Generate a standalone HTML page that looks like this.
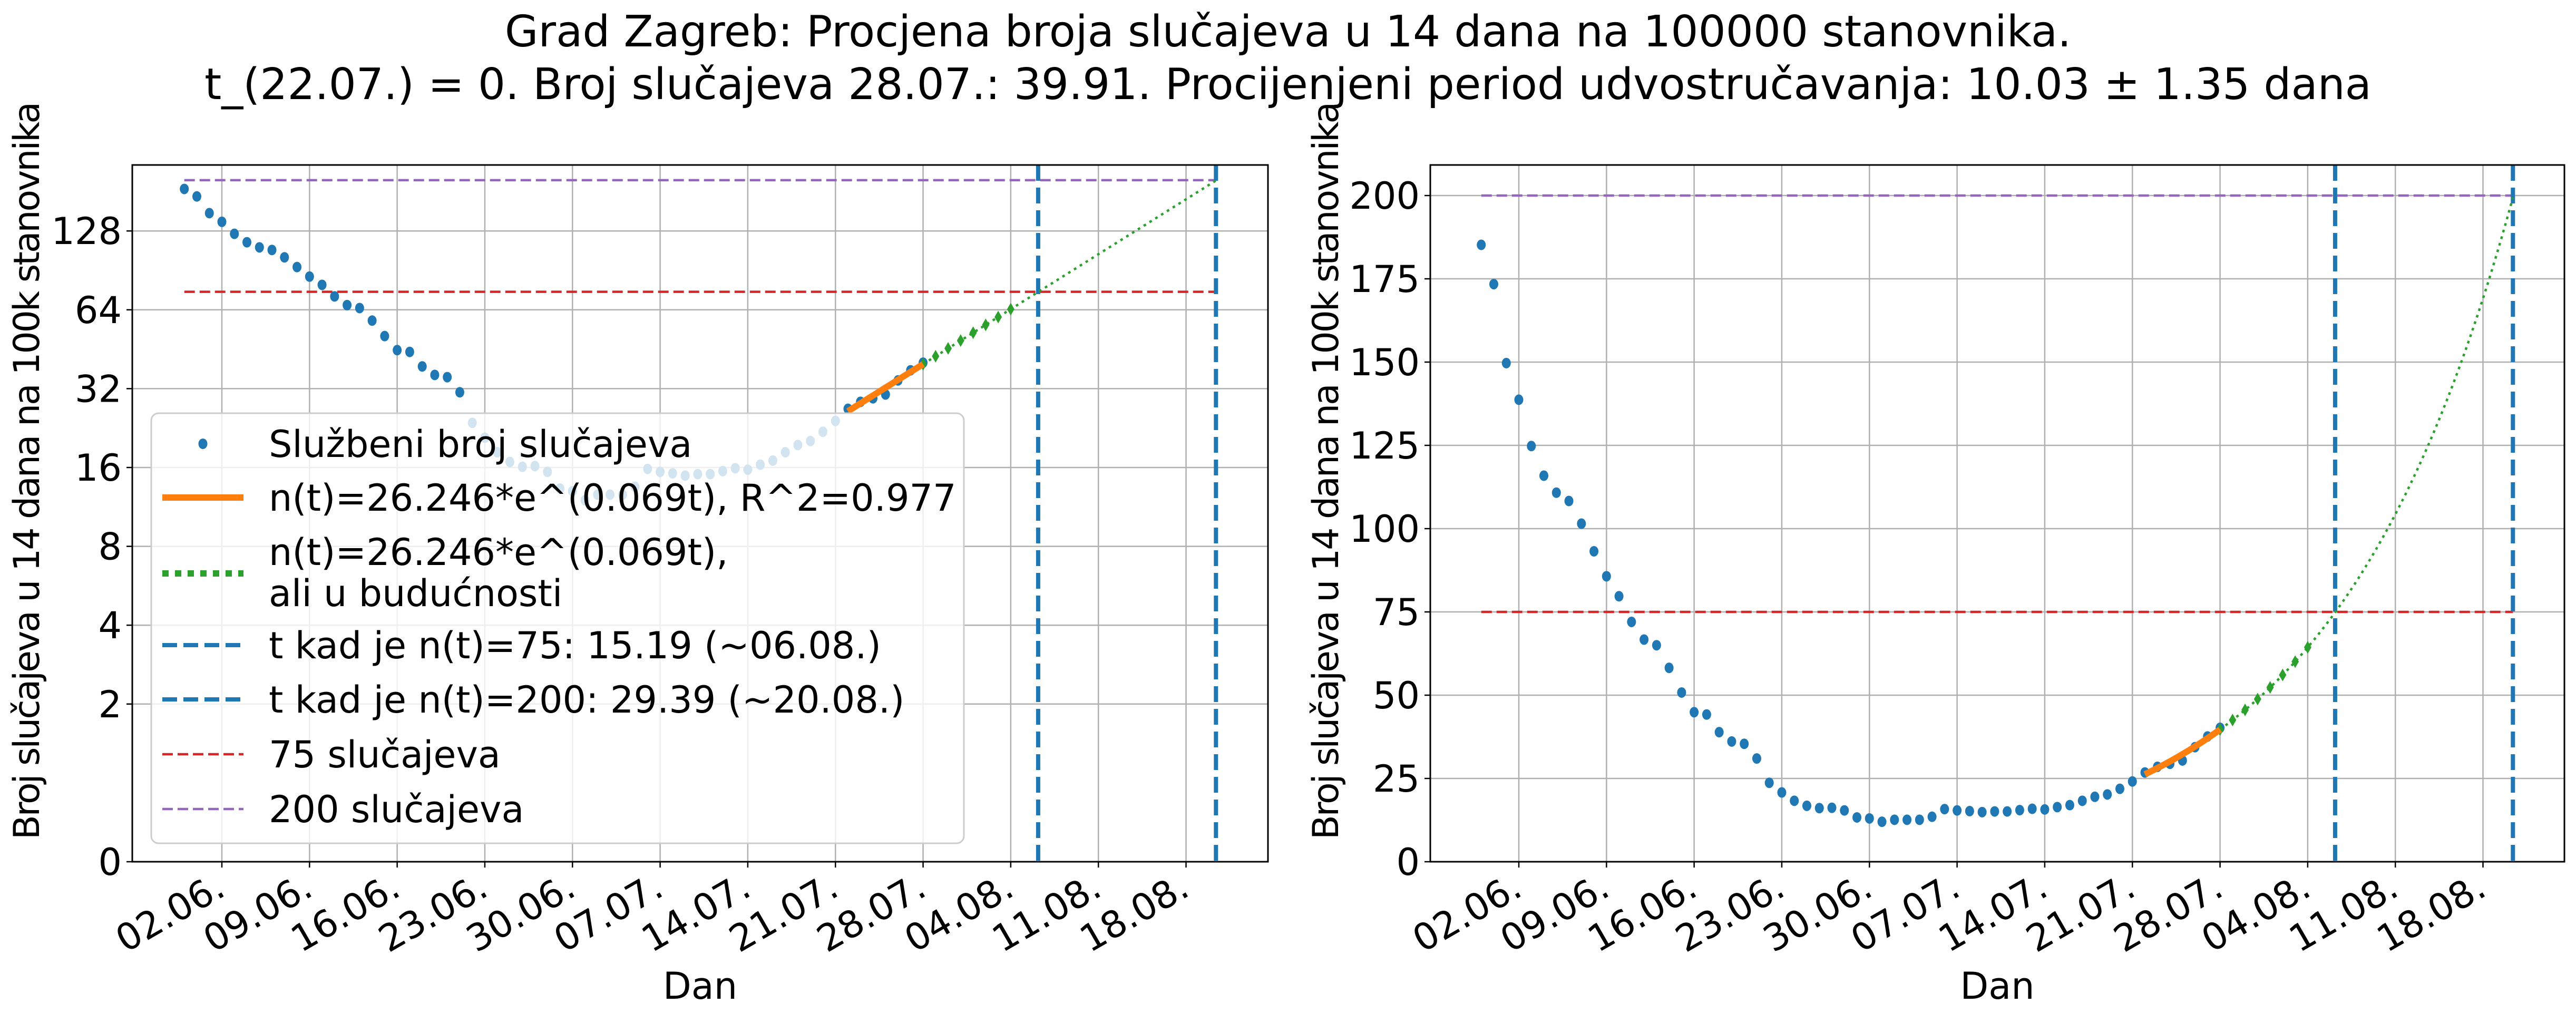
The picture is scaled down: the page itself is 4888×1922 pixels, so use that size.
<!DOCTYPE html>
<html><head><meta charset="utf-8"><style>
html,body{margin:0;padding:0;background:#fff}
svg{display:block;font-family:"DejaVu Sans","Liberation Sans",sans-serif}
</style></head><body>
<svg id="fig" width="4888" height="1922" viewBox="0 0 4888 1922" xmlns="http://www.w3.org/2000/svg">
<text x="2444" y="88" font-size="82" text-anchor="middle">Grad Zagreb: Procjena broja slučajeva u 14 dana na 100000 stanovnika.</text>
<text x="2444" y="188" font-size="82" text-anchor="middle">t_(22.07.) = 0. Broj slučajeva 28.07.: 39.91. Procijenjeni period udvostručavanja: 10.03 ± 1.35 dana</text>
<g id="left"></g>
<g id="right"></g>
</svg>
<script>
// data: daily values starting 30.05. (day index -3 relative to 02.06.)
const startDay = -3;
const cases = [185.2,173.4,149.7,138.7,124.8,115.9,110.8,108.3,101.5,93.2,85.7,79.7,72.0,66.7,65.0,58.2,50.8,44.9,44.2,38.9,36.1,35.4,31.0,23.7,20.8,18.3,16.8,16.1,16.2,15.4,13.3,13.0,12.0,12.6,12.6,12.6,13.5,15.8,15.4,15.2,14.9,15.1,15.1,15.5,15.9,15.7,16.4,17.0,18.3,19.5,20.2,21.9,24.1,26.8,28.5,29.4,30.4,34.4,37.6,40.2];
const xTickLabels = ["02.06.","09.06.","16.06.","23.06.","30.06.","07.07.","14.07.","21.07.","28.07.","04.08.","11.08.","18.08."];
const xTickDays = [0,7,14,21,28,35,42,49,56,63,70,77];
const fitA = [26.246];
const fitK = [0.069];
const fitT0Day = [50];       // 22.07.
const fitEndT = [6];          // 28.07.
const thresholds = [75,200];
const tThresh = [15.19,29.39];
const leftYTicks = [0,2,4,8,16,32,64,128];
const rightYTicks = [0,25,50,75,100,125,150,175,200];

const NS="http://www.w3.org/2000/svg";
const C={blue:"#1f77b4",orange:"#ff7f0e",green:"#2ca02c",red:"#d62728",purple:"#9467bd"};
function el(p,tag,attrs,txt){const e=document.createElementNS(NS,tag);for(const k in attrs)e.setAttribute(k,attrs[k]);if(txt!==undefined)e.textContent=txt;p.appendChild(e);return e;}
const fit=t=>fitA[0]*Math.exp(fitK[0]*t);

function drawChart(g,cfg){
  const L=cfg.left,R=cfg.right,T=313,B=1635;
  const X=d=>cfg.x0+23.76*d;
  const Y=cfg.Y;
  xTickDays.forEach((d,i)=>{
    const gl=el(g,"line",{x1:X(d),x2:X(d),y1:T,y2:B,stroke:"#b0b0b0","stroke-width":2.5});
    
    
    const tk=el(g,"line",{x1:X(d),x2:X(d),y1:B,y2:B+11,stroke:"#000","stroke-width":2.5});
    
    
    const lb=el(g,"text",{x:X(d)+10,y:B+62,"font-size":70,"text-anchor":"end",transform:`rotate(-30 ${X(d)+10} ${B+62})`},xTickLabels[i]);
    
    
  });
  cfg.yticks.forEach(v=>{
    const gl=el(g,"line",{x1:L,x2:R,y1:Y(v),y2:Y(v),stroke:"#b0b0b0","stroke-width":2.5});
    
    
    const tk=el(g,"line",{x1:L-11,x2:L,y1:Y(v),y2:Y(v),stroke:"#000","stroke-width":2.5});
    
    
    const lb=el(g,"text",{x:L-20,y:Y(v)+25,"font-size":70,"text-anchor":"end"},String(v));
    
    
  });
  const dFirst=startDay, dEnd=fitT0Day[0]+tThresh[1];
  const hc=[C.red,C.purple];
  thresholds.forEach((v,i)=>{
    const h=el(g,"line",{x1:X(dFirst),x2:X(dEnd),y1:Y(v),y2:Y(v),stroke:hc[i],"stroke-width":4.5,"stroke-dasharray":"20 9"});
    
    
  });
  tThresh.forEach((t,i)=>{
    const v=el(g,"line",{x1:X(fitT0Day[0]+t),x2:X(fitT0Day[0]+t),y1:T,y2:B,stroke:C.blue,"stroke-width":8,"stroke-dasharray":"30 13"});
    
    
  });
  cases.forEach((v,i)=>{
    const c=el(g,"ellipse",{cx:X(startDay+i),cy:Y(v),rx:8.5,ry:10,fill:C.blue});
    
    
  });
  let pts=[];
  for(let t=fitEndT[0];t<=tThresh[1]+0.001;t+=0.25)pts.push(X(fitT0Day[0]+t)+","+Y(fit(t)));
  pts.push(X(fitT0Day[0]+tThresh[1])+","+Y(fit(tThresh[1])));
  const fl=el(g,"polyline",{points:pts.join(" "),fill:"none",stroke:C.green,"stroke-width":4.5,"stroke-dasharray":"5 8"});
  
  
  for(let t=fitEndT[0];t<=fitEndT[0]+7;t++){
    const x=X(fitT0Day[0]+t),y=Y(fit(t));
    const dm=el(g,"polygon",{points:`${x},${y-12} ${x+7},${y} ${x},${y+12} ${x-7},${y}`,fill:C.green});
    
    
  }
  pts=[];
  for(let t=0;t<=fitEndT[0]+0.001;t+=0.25)pts.push(X(fitT0Day[0]+t)+","+Y(fit(t)));
  const ol=el(g,"polyline",{points:pts.join(" "),fill:"none",stroke:C.orange,"stroke-width":12});
  
  
  const sp=el(g,"rect",{x:L,y:T,width:R-L,height:B-T,fill:"none",stroke:"#000","stroke-width":3});
  
  
  const xl=el(g,"text",{x:(L+R)/2,y:1895,"font-size":70,"text-anchor":"middle"},"Dan");
  
  
  const yl=el(g,"text",{x:cfg.ylx,y:893,"font-size":68,"text-anchor":"middle",transform:`rotate(-90 ${cfg.ylx} 893)`,textLength:1400,lengthAdjust:"spacing"},"Broj slučajeva u 14 dana na 100k stanovnika");
  
  
}

const fLog=v=>v<1?v:1+Math.log2(v);
drawChart(document.getElementById("left"),{left:251,right:2406,x0:421,yticks:leftYTicks,Y:v=>1635-fLog(v)*149.6,ylx:74});
drawChart(document.getElementById("right"),{left:2714,right:4866,x0:2882,yticks:rightYTicks,Y:v=>1635-v*6.32,ylx:2539});

const lg=el(document.getElementById("left"),"g",{});


const box=el(lg,"rect",{x:287,y:784,width:1542,height:816,rx:14,fill:"#fff","fill-opacity":0.8,stroke:"#cccccc","stroke-width":3});


const entries=[
 {y:842,type:"dot",c:C.blue,t:["Službeni broj slučajeva"],n:"legend-entry-cases"},
 {y:944,type:"line",c:C.orange,w:12,dash:"",t:["n(t)=26.246*e^(0.069t), R^2=0.977"],n:"legend-entry-fit"},
 {y:1088,type:"line",c:C.green,w:12,dash:"12 12",t:["n(t)=26.246*e^(0.069t),","ali u budućnosti"],n:"legend-entry-future"},
 {y:1224,type:"line",c:C.blue,w:8,dash:"28 12",t:["t kad je n(t)=75: 15.19 (~06.08.)"],n:"legend-entry-t75"},
 {y:1327,type:"line",c:C.blue,w:8,dash:"28 12",t:["t kad je n(t)=200: 29.39 (~20.08.)"],n:"legend-entry-t200"},
 {y:1431,type:"line",c:C.red,w:4.5,dash:"20 9",t:["75 slučajeva"],n:"legend-entry-75"},
 {y:1535,type:"line",c:C.purple,w:4.5,dash:"20 9",t:["200 slučajeva"],n:"legend-entry-200"}];
entries.forEach(e=>{
  const g=el(lg,"g",{});
  
  
  if(e.type==="dot")el(g,"ellipse",{cx:385,cy:e.y,rx:8.5,ry:10,fill:e.c});
  else el(g,"line",{x1:308,x2:462,y1:e.y,y2:e.y,stroke:e.c,"stroke-width":e.w,"stroke-dasharray":e.dash});
  if(e.t.length===1)el(g,"text",{x:510,y:e.y+25,"font-size":70},e.t[0]);
  else{el(g,"text",{x:510,y:e.y-16,"font-size":70},e.t[0]);el(g,"text",{x:510,y:e.y+62,"font-size":70},e.t[1]);}
});
</script>
</body></html>
